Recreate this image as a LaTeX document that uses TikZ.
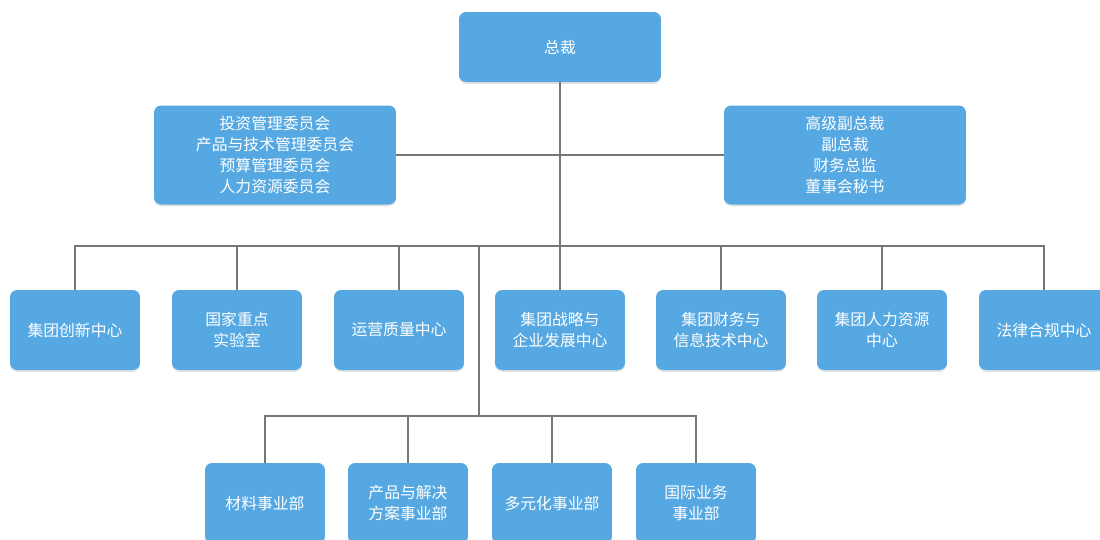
\documentclass[tikz,border=0pt]{standalone}
\usepackage{fontspec}
\newfontfamily\cjk{Noto Sans CJK SC}
\usetikzlibrary{positioning, shadows}
\definecolor{boxfill}{HTML}{56A8E2}
\definecolor{linkline}{HTML}{767676}
\tikzset{
  orgbox/.style={rectangle, rounded corners=4pt, fill=boxfill, draw=none,
                 text=white, align=center, inner sep=2pt,
                 font=\cjk\fontsize{9}{11.8}\selectfont,
                 drop shadow={shadow xshift=0pt, shadow yshift=-1pt, opacity=0.22}},
  topbox/.style={orgbox, minimum width=4.04cm, minimum height=1.4cm},
  boardbox/.style={orgbox, minimum width=4.84cm, minimum height=1.98cm},
  deptbox/.style={orgbox, minimum width=2.6cm, minimum height=1.6cm},
  bizbox/.style={orgbox, minimum width=2.4cm, minimum height=1.6cm},
  link/.style={draw=linkline, line width=1pt},
}

\begin{document}
\begin{tikzpicture}[x=0.02cm, y=-0.02cm]
\useasboundingbox (0,0) rectangle (1100,539);

% Top level
\node[topbox] (ceo) at (560,47) {总裁};
\node[boardbox] (board) at (275,155)
  {投资管理委员会\\产品与技术管理委员会\\预算管理委员会\\人力资源委员会};
\node[boardbox] (officers) at (845,155)
  {高级副总裁\\副总裁\\财务总监\\董事会秘书};

% Group centers
\node[deptbox] (c1) at (75,330)   {集团创新中心};
\node[deptbox] (c2) at (237,330)  {国家重点\\实验室};
\node[deptbox] (c3) at (399,330)  {运营质量中心};
\node[deptbox] (c4) at (560,330)  {集团战略与\\企业发展中心};
\node[deptbox] (c5) at (721,330)  {集团财务与\\信息技术中心};
\node[deptbox] (c6) at (882,330)  {集团人力资源\\中心};
\node[deptbox] (c7) at (1044,330) {法律合规中心};

% Business units
\node[bizbox] (b1) at (265,503) {材料事业部};
\node[bizbox] (b2) at (408,503) {产品与解决\\方案事业部};
\node[bizbox] (b3) at (552,503) {多元化事业部};
\node[bizbox] (b4) at (696,503) {国际业务\\事业部};

% Bus lines
\coordinate (bus2) at (560,246);
\coordinate (trunk) at (479,246);
\coordinate (bus3) at (479,416);

\draw[link] (ceo.south) -- (bus2);
\draw[link] (board.east) -- (officers.west);
\draw[link] (c1.north) -- (c1 |- bus2) -- (c7 |- bus2) -- (c7.north);
\foreach \n in {c2, c3, c4, c5, c6} { \draw[link] (\n.north) -- (\n |- bus2); }
\draw[link] (trunk) -- (bus3);
\draw[link] (b1.north) -- (b1 |- bus3) -- (b4 |- bus3) -- (b4.north);
\foreach \n in {b2, b3} { \draw[link] (\n.north) -- (\n |- bus3); }

\end{tikzpicture}
\end{document}
